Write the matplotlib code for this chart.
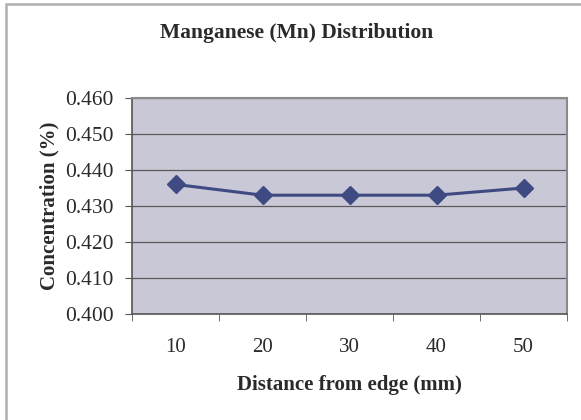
import matplotlib.pyplot as plt
from matplotlib.patches import Rectangle

# Datos
distancias = ['10', '20', '30', '40', '50']
concentracion = [0.436, 0.433, 0.433, 0.433, 0.435]
y_ticks = [0.400, 0.410, 0.420, 0.430, 0.440, 0.450, 0.460]

plt.rcParams['font.family'] = ['Liberation Serif', 'DejaVu Serif']

fig = plt.figure(figsize=(5.81, 4.20), dpi=100)
fig.patch.set_facecolor('white')

# Marco gris alrededor del grafico
fig.patches.append(Rectangle((6 / 581, -0.01), 1.0, 1 - 4 / 420 + 0.01, transform=fig.transFigure,
                             facecolor='none', edgecolor='#b0b0b0', linewidth=1.8))

ax = fig.add_axes([132 / 581, 106 / 420, 435 / 581, 216 / 420])
ax.set_facecolor('#c9c8d6')

x = range(len(distancias))
ax.plot(x, concentracion, color='#3f4a82', linewidth=2.2, marker='D', markersize=9,
        markerfacecolor='#3f4a82', markeredgecolor='#3f4a82', zorder=3)

ax.set_ylim(0.400, 0.460)
ax.set_yticks(y_ticks)
ax.set_yticklabels([f'{v:.3f}' for v in y_ticks], fontsize=15.5, color='#2a2a2a')
ax.yaxis.grid(True, color='#5a5a5a', linewidth=0.9)
ax.set_axisbelow(True)

ax.set_xlim(-0.5, len(distancias) - 0.5)
ax.set_xticks(list(x))
ax.set_xticklabels(distancias, fontsize=15, color='#2a2a2a')
ax.set_xticks([i - 0.5 for i in range(len(distancias) + 1)], minor=True)
ax.tick_params(axis='x', which='major', length=0, pad=17)
ax.tick_params(axis='x', which='minor', length=5, color='#555555')
ax.tick_params(axis='y', length=5, color='#555555', pad=8)

for s in ['left', 'bottom']:
    ax.spines[s].set_color('#555555')
    ax.spines[s].set_linewidth(1.2)
for s in ['top', 'right']:
    ax.spines[s].set_color('#8a8a8a')
    ax.spines[s].set_linewidth(1.5)

ax.set_xlabel('Distance from edge (mm)', fontsize=15, fontweight='bold', color='#2a2a2a', labelpad=13)
ax.set_ylabel('Concentration (%)', fontsize=15, fontweight='bold', color='#2a2a2a', labelpad=4)
fig.text(297 / 581, 1 - 33 / 420, 'Manganese (Mn) Distribution', ha='center', va='center',
         fontsize=15.5, fontweight='bold', color='#2a2a2a')

fig.savefig('out.png', dpi=100)
